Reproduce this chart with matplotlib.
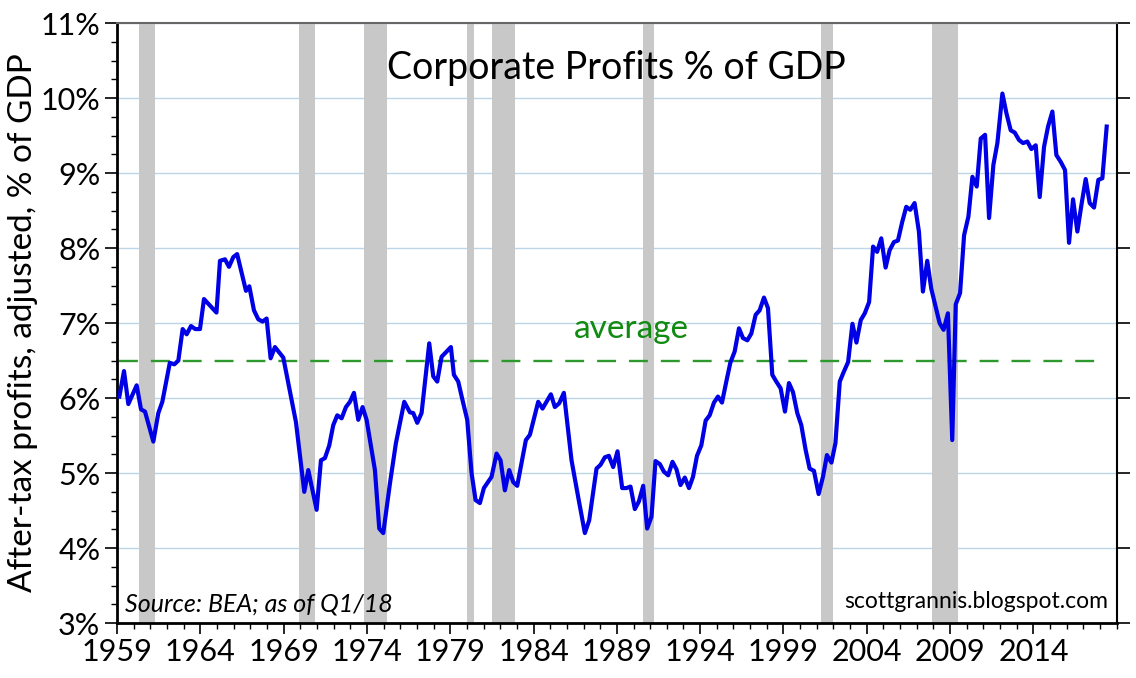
import numpy as np
import matplotlib
matplotlib.use("Agg")
import matplotlib.pyplot as plt
from matplotlib.ticker import MultipleLocator, FuncFormatter

# =============================
# Data
# =============================
years = [
    1959.14, 1959.42, 1959.68, 1960.18, 1960.44, 1960.68, 1961.18, 1961.48, 1961.72, 1962.17,
    1962.44, 1962.68, 1962.94, 1963.18, 1963.44, 1963.70, 1963.98, 1964.22, 1964.97, 1965.18,
    1965.48, 1965.72, 1965.98, 1966.21, 1966.74, 1966.94, 1967.22, 1967.48, 1967.74, 1967.98,
    1968.22, 1968.48, 1968.98, 1969.48, 1969.74, 1970.24, 1970.48, 1970.98, 1971.24, 1971.48,
    1971.74, 1971.98, 1972.22, 1972.48, 1972.74, 1972.98, 1973.22, 1973.48, 1973.74, 1973.98,
    1974.48, 1974.74, 1974.98, 1975.38, 1975.74, 1976.24, 1976.58, 1976.78, 1977.02, 1977.28,
    1977.74, 1977.98, 1978.22, 1978.48, 1978.78, 1979.04, 1979.22, 1979.48, 1979.74, 1980.02,
    1980.28, 1980.52, 1980.78, 1981.02, 1981.48, 1981.78, 1982.02, 1982.28, 1982.54, 1982.78,
    1983.02, 1983.54, 1983.78, 1984.28, 1984.54, 1985.04, 1985.28, 1985.54, 1985.82, 1986.28,
    1986.68, 1987.08, 1987.34, 1987.78, 1988.02, 1988.28, 1988.52, 1988.78, 1989.04, 1989.32,
    1989.58, 1989.82, 1990.08, 1990.32, 1990.58, 1990.82, 1991.08, 1991.32, 1991.58, 1991.82,
    1992.08, 1992.34, 1992.58, 1992.82, 1993.08, 1993.33, 1993.57, 1993.81, 1994.07, 1994.33,
    1994.57, 1994.83, 1995.07, 1995.31, 1995.57, 1995.81, 1996.07, 1996.33, 1996.57, 1996.83,
    1997.07, 1997.33, 1997.57, 1997.83, 1998.07, 1998.33, 1998.57, 1998.83, 1999.09, 1999.33,
    1999.57, 1999.83, 2000.07, 2000.33, 2000.57, 2000.83, 2001.11, 2001.37, 2001.61, 2001.88,
    2002.12, 2002.38, 2002.62, 2002.88, 2003.14, 2003.38, 2003.64, 2003.88, 2004.14, 2004.38,
    2004.62, 2004.87, 2005.13, 2005.37, 2005.63, 2005.87, 2006.13, 2006.37, 2006.61, 2006.87,
    2007.13, 2007.37, 2007.63, 2007.87, 2008.13, 2008.37, 2008.61, 2008.87, 2009.13, 2009.34,
    2009.60, 2009.84, 2010.10, 2010.34, 2010.60, 2010.84, 2011.10, 2011.34, 2011.60, 2011.84,
    2012.14, 2012.38, 2012.64, 2012.88, 2013.14, 2013.38, 2013.64, 2013.88, 2014.14, 2014.38,
    2014.64, 2014.88, 2015.14, 2015.38, 2015.64, 2015.90, 2016.14, 2016.38, 2016.64, 2016.88,
    2017.14, 2017.38, 2017.64, 2017.90, 2018.14, 2018.40,
]
profits = [
    6.02, 6.36, 5.92, 6.17, 5.85, 5.82, 5.42, 5.80, 5.95, 6.47,
    6.45, 6.50, 6.92, 6.85, 6.96, 6.92, 6.92, 7.32, 7.14, 7.83,
    7.85, 7.75, 7.88, 7.92, 7.43, 7.49, 7.17, 7.05, 7.02, 7.06,
    6.53, 6.68, 6.54, 5.97, 5.68, 4.75, 5.04, 4.51, 5.17, 5.20,
    5.37, 5.64, 5.77, 5.73, 5.88, 5.95, 6.07, 5.71, 5.88, 5.71,
    5.04, 4.26, 4.20, 4.86, 5.40, 5.95, 5.81, 5.80, 5.67, 5.80,
    6.73, 6.29, 6.22, 6.55, 6.62, 6.68, 6.31, 6.22, 5.97, 5.71,
    5.00, 4.64, 4.60, 4.80, 4.95, 5.26, 5.17, 4.77, 5.04, 4.88,
    4.83, 5.44, 5.51, 5.95, 5.86, 6.05, 5.88, 5.93, 6.07, 5.17,
    4.68, 4.20, 4.37, 5.06, 5.11, 5.21, 5.23, 5.08, 5.29, 4.80,
    4.80, 4.82, 4.52, 4.62, 4.83, 4.26, 4.42, 5.16, 5.12, 5.02,
    4.97, 5.15, 5.05, 4.84, 4.94, 4.80, 4.95, 5.23, 5.37, 5.70,
    5.77, 5.94, 6.02, 5.94, 6.22, 6.47, 6.62, 6.93, 6.80, 6.77,
    6.86, 7.11, 7.17, 7.34, 7.20, 6.31, 6.22, 6.13, 5.82, 6.20,
    6.08, 5.80, 5.64, 5.31, 5.06, 5.03, 4.72, 4.95, 5.24, 5.14,
    5.40, 6.22, 6.35, 6.48, 6.99, 6.74, 7.04, 7.13, 7.28, 8.02,
    7.95, 8.13, 7.74, 7.97, 8.08, 8.10, 8.35, 8.55, 8.51, 8.60,
    8.22, 7.42, 7.83, 7.46, 7.22, 7.00, 6.91, 7.13, 5.44, 7.25,
    7.40, 8.17, 8.42, 8.95, 8.82, 9.46, 9.51, 8.40, 9.11, 9.40,
    10.06, 9.80, 9.57, 9.54, 9.44, 9.40, 9.42, 9.32, 9.37, 8.68,
    9.35, 9.62, 9.82, 9.24, 9.15, 9.04, 8.07, 8.65, 8.22, 8.57,
    8.92, 8.60, 8.54, 8.91, 8.93, 9.62,
]
average = 6.5

# NBER recessions (start, end)
rec_start = [1960.30, 1969.92, 1973.85, 1979.98, 1981.50, 1990.55, 2001.25, 2007.92]
rec_end = [1961.28, 1970.88, 1975.22, 1980.45, 1982.88, 1991.22, 2001.98, 2009.50]

x_ticks = [1959, 1964, 1969, 1974, 1979, 1984, 1989, 1994, 1999, 2004, 2009, 2014]

# =============================
# Plot
# =============================
plt.rcParams['font.family'] = ['Lato', 'DejaVu Sans']

fig = plt.figure(figsize=(11.36, 6.78), dpi=100)
ax = fig.add_axes([0.103, 0.081, 0.880, 0.885])

for s, e in zip(rec_start, rec_end):
    ax.axvspan(s, e, color='#c8c8c8', lw=0, zorder=1)

ax.grid(axis='y', color='#bcd6e6', lw=1, zorder=0)
ax.set_axisbelow(True)

ax.plot([years[0], years[-1]], [average, average], color='#2e9a2e', lw=1.7,
        dashes=(8, 5.5), zorder=2)
ax.plot(years, profits, color='#0000e6', lw=3.0, zorder=3)

ax.set_xlim(1959, 2019)
ax.set_ylim(3, 11)

ax.set_xticks(x_ticks)
ax.xaxis.set_minor_locator(MultipleLocator(1))
ax.yaxis.set_major_locator(MultipleLocator(1))
ax.yaxis.set_minor_locator(MultipleLocator(0.25))
ax.yaxis.set_major_formatter(FuncFormatter(lambda v, p: f"{v:.0f}%"))
ax.xaxis.set_major_formatter(FuncFormatter(lambda v, p: f"{v:.0f}"))

ax.tick_params(axis='both', which='major', direction='out', length=8, width=1.2,
               labelsize=22, pad=3)
ax.tick_params(axis='both', which='minor', direction='out', length=4, width=1)
ax.tick_params(axis='y', which='major', right=True, length=9)

for side in ['left', 'bottom']:
    ax.spines[side].set_linewidth(2)
for side in ['right', 'top']:
    ax.spines[side].set_linewidth(1.5)
ax.spines['top'].set_color('#666666')

ax.set_ylabel("After-tax profits, adjusted, % of GDP", fontsize=24, labelpad=2)

ax.text(0.5, 0.925, "Corporate Profits % of GDP", transform=ax.transAxes,
        ha='center', va='center', fontsize=27)
ax.text(1989.9, 6.92, "average", color='#118a11', fontsize=24, ha='center', va='center')
ax.text(0.008, 0.012, "Source: BEA; as of Q1/18", transform=ax.transAxes,
        ha='left', va='bottom', fontsize=18, style='italic')
ax.text(0.991, 0.018, "scottgrannis.blogspot.com", transform=ax.transAxes,
        ha='right', va='bottom', fontsize=16.5)

fig.savefig("out.png", dpi=100)
